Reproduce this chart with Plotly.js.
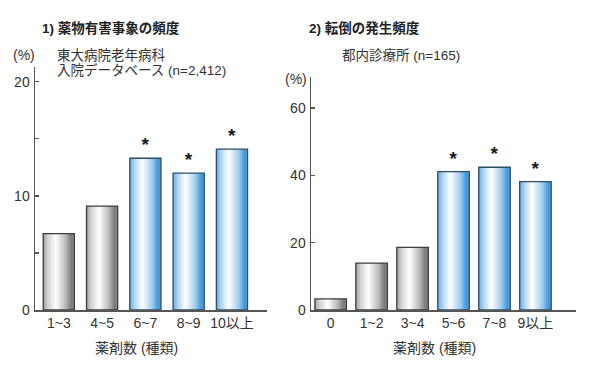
<!DOCTYPE html>
<html><head><meta charset="utf-8">
<script src="https://cdn.plot.ly/plotly-3.0.1.min.js"></script>
<style>body{margin:0;background:#fff}#c{width:600px;height:371px}</style>
</head><body><div id="c"></div>
<script>
// ---- data ----
const cats1 = ["1~3", "4~5", "6~7", "8~9", "10以上"];
const vals1 = [6.7, 9.1, 13.3, 12.0, 14.1];
const sig1  = [false, false, true, true, true];

const cats2 = ["0", "1~2", "3~4", "5~6", "7~8", "9以上"];
const vals2 = [3.3, 13.9, 18.6, 41.1, 42.4, 38.1];
const sig2  = [false, false, false, true, true, true];

const title1 = "1) 薬物有害事象の頻度";
const sub1a = "東大病院老年病科";
const sub1b = "入院データベース (n=2,412)";
const title2 = "2) 転倒の発生頻度";
const sub2 = "都内診療所 (n=165)";
const xTitle = "薬剤数 (種類)";
const yUnit = "(%)";

// ---- styles ----
const FONT = "Liberation Sans, Arial, Noto Sans CJK JP, sans-serif";
const grayStops = [[0,[160,160,160]],[0.15,[210,210,210]],[0.4,[255,255,255]],[0.72,[185,185,185]],[0.9,[120,120,120]],[1,[135,135,135]]];
const blueStops = [[0,[100,170,226]],[0.15,[174,213,242]],[0.4,[255,255,255]],[0.72,[158,203,238]],[0.9,[66,152,218]],[1,[84,160,220]]];
function grad(stops, t){
  for(let i=1;i<stops.length;i++){
    if(t<=stops[i][0]){
      const a=stops[i-1], b=stops[i];
      const f=(t-a[0])/(b[0]-a[0]);
      const c=a[1].map((v,k)=>Math.round(v+(b[1][k]-v)*f));
      return `rgb(${c[0]},${c[1]},${c[2]})`;
    }
  }
  const c=stops[stops.length-1][1]; return `rgb(${c[0]},${c[1]},${c[2]})`;
}

const N = 24;
function makeTraces(cats, vals, sig, W, xa, ya){
  const traces=[];
  const sw = W/N;
  for(let i=0;i<N;i++){
    const t=(i+0.5)/N;
    traces.push({
      type:'bar', x:cats, y:vals, xaxis:xa, yaxis:ya,
      width: (i<N-1? sw*1.4 : sw), offset: -W/2 + i*sw,
      marker:{color: sig.map(s=> grad(s?blueStops:grayStops, t)), line:{width:0}},
      hoverinfo:'skip', showlegend:false
    });
  }
  traces.push({
    type:'bar', x:cats, y:vals, xaxis:xa, yaxis:ya, width:W, offset:-W/2,
    marker:{color:'rgba(0,0,0,0)', line:{width:1.3, color: sig.map(s=> s?'#2b4f68':'#3c3c3c')}},
    text: sig.map(s=> s?'*':''), textposition:'outside', cliponaxis:false,
    textfont:{family:FONT, size:19, color:'#1a1a1a', weight:'bold'},
    hoverinfo:'skip', showlegend:false
  });
  return traces;
}

const data = [].concat(
  makeTraces(cats1, vals1, sig1, 0.72, 'x', 'y'),
  makeTraces(cats2, vals2, sig2, 0.77, 'x2', 'y2')
);

const axLine = '#555';
const tickFont = {family:FONT, size:14, color:'#333'};
const layout = {
  width:600, height:371, margin:{l:0,r:0,t:0,b:0},
  paper_bgcolor:'#fff', plot_bgcolor:'rgba(0,0,0,0)',
  barmode:'overlay', font:{family:FONT, color:'#333'},
  xaxis:{domain:[35/600, 267/600], anchor:'y', type:'category', range:[-0.55,4.81],
    showline:true, linecolor:axLine, linewidth:1.5, ticks:'', showgrid:false, zeroline:false,
    tickfont:tickFont, fixedrange:true},
  yaxis:{domain:[(371-310)/371, (371-67)/371], anchor:'x', range:[0,21.3],
    showline:true, linecolor:axLine, linewidth:1.5, ticks:'inside', ticklen:4, tickcolor:axLine, tickwidth:1.2,
    tickvals:[0,10,20], minor:{tickvals:[5,15], ticks:'inside', ticklen:4, tickcolor:axLine, tickwidth:1.2},
    showgrid:false, zeroline:false, tickfont:tickFont, ticklabelstandoff:1},
  xaxis2:{domain:[311/600, 576/600], anchor:'y2', type:'category', range:[-0.48,5.99],
    showline:true, linecolor:axLine, linewidth:1.5, ticks:'', showgrid:false, zeroline:false,
    tickfont:tickFont},
  yaxis2:{domain:[(371-310)/371, (371-77)/371], anchor:'x2', range:[0,69.2],
    showline:true, linecolor:axLine, linewidth:1.5, ticks:'inside', ticklen:4, tickcolor:axLine, tickwidth:1.2,
    tickvals:[0,20,40,60], showgrid:false, zeroline:false, tickfont:tickFont, ticklabelstandoff:1},
  annotations:[
    {text:title1, x:40/600, y:(371-28)/371, xref:'paper', yref:'paper', xanchor:'left', yanchor:'middle', showarrow:false,
     font:{family:FONT, size:13.5, color:'#222', weight:'bold'}},
    {text:title2, x:307/600, y:(371-28)/371, xref:'paper', yref:'paper', xanchor:'left', yanchor:'middle', showarrow:false,
     font:{family:FONT, size:13.5, color:'#222', weight:'bold'}},
    {text:sub1a, x:55/600, y:(371-55)/371, xref:'paper', yref:'paper', xanchor:'left', yanchor:'middle', showarrow:false,
     font:{family:FONT, size:13.5, color:'#333'}},
    {text:sub1b, x:55/600, y:(371-70)/371, xref:'paper', yref:'paper', xanchor:'left', yanchor:'middle', showarrow:false,
     font:{family:FONT, size:13.5, color:'#333'}},
    {text:sub2, x:340/600, y:(371-55)/371, xref:'paper', yref:'paper', xanchor:'left', yanchor:'middle', showarrow:false,
     font:{family:FONT, size:13.5, color:'#333'}},
    {text:yUnit, x:24/600, y:(371-55)/371, xref:'paper', yref:'paper', xanchor:'center', yanchor:'middle', showarrow:false,
     font:{family:FONT, size:14, color:'#333'}},
    {text:yUnit, x:296/600, y:(371-79)/371, xref:'paper', yref:'paper', xanchor:'center', yanchor:'middle', showarrow:false,
     font:{family:FONT, size:14, color:'#333'}},
    {text:xTitle, x:136/600, y:(371-348)/371, xref:'paper', yref:'paper', xanchor:'center', yanchor:'middle', showarrow:false,
     font:{family:FONT, size:14, color:'#333'}},
    {text:xTitle, x:434/600, y:(371-348)/371, xref:'paper', yref:'paper', xanchor:'center', yanchor:'middle', showarrow:false,
     font:{family:FONT, size:14, color:'#333'}}
  ]
};
Plotly.newPlot('c', data, layout, {staticPlot:true, displayModeBar:false});
</script></body></html>
